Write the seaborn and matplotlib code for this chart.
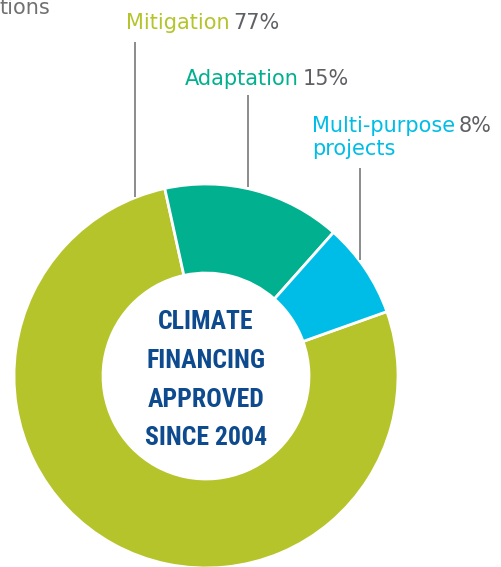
import matplotlib
matplotlib.use("Agg")
import matplotlib.pyplot as plt
from matplotlib import font_manager
import seaborn as sns

# ---- data ----
categories = ["Mitigation", "Adaptation", "Multi-purpose\nprojects"]
shares = [77, 15, 8]
pct_labels = ["77%", "15%", "8%"]
center_lines = ["CLIMATE", "FINANCING", "APPROVED", "SINCE 2004"]

sns.set_theme(style="white")
plt.rcParams["font.family"] = ["DejaVu Sans"]

# pick a narrow bold face for the centre text if one is installed
names = {f.name for f in font_manager.fontManager.ttflist}
narrow = None
for cand in ["Liberation Sans Narrow", "Roboto Condensed", "Open Sans Condensed",
             "DejaVu Sans Condensed"]:
    if cand in names:
        narrow = cand
        break
if narrow is None:
    narrow = "DejaVu Sans"

colors = sns.color_palette(["#B5C42B", "#00B08E", "#00BDE7"])
gray_txt = "#5F6063"
navy = "#0D4A8E"

W, H = 501, 567
fig = plt.figure(figsize=(W / 100, H / 100), dpi=100)
ax = fig.add_axes([0, 0, 1, 1])

cx, cy, R = 206, H - 376, 192
ax.pie(shares, colors=colors, startangle=19.6, counterclock=False,
       center=(cx, cy), radius=R, frame=True,
       wedgeprops=dict(width=89, edgecolor="white", linewidth=2))
ax.set_xlim(0, W)
ax.set_ylim(0, H)
ax.axis("off")
ax.set_aspect("equal")

# leader lines (x, y_top, y_bottom) in pixel-from-top coordinates
leaders = [(135, 42, 197), (248, 95, 187), (360, 168, 260)]
for x, yt, yb in leaders:
    ax.plot([x, x], [H - yt, H - yb], color="#808285", lw=1.3, solid_capstyle="butt")

# category labels
fs = 15
label_pos = [(126, 29), (185, 85), (312, 132)]
fig.canvas.draw()
renderer = fig.canvas.get_renderer()
for name, pct, col, (x, yb) in zip(categories, pct_labels, colors, label_pos):
    first = name.split("\n")[0]
    t = ax.text(x, H - yb, first, color=col, fontsize=fs,
                ha="left", va="baseline")
    bb = t.get_window_extent(renderer=renderer)
    x_end = ax.transData.inverted().transform((bb.x1, bb.y0))[0]
    ax.text(x_end + 4, H - yb, pct, color=gray_txt, fontsize=fs,
            ha="left", va="baseline")
    if "\n" in name:
        ax.text(x, H - (yb + 23), name.split("\n")[1], color=col, fontsize=fs,
                ha="left", va="baseline")

# cropped title fragment at top-left (cut off in the reference as well)
ax.text(-1, H - 14, "tions", color="#707173", fontsize=15, ha="left", va="baseline")

# center text
baselines = [329, 368, 407, 445]
for line, yb in zip(center_lines, baselines):
    ax.text(cx, H - yb, line, color=navy, fontsize=18.5, fontweight="bold",
            family=narrow, fontstretch="condensed",
            ha="center", va="baseline")

fig.savefig("out.png", dpi=100)
